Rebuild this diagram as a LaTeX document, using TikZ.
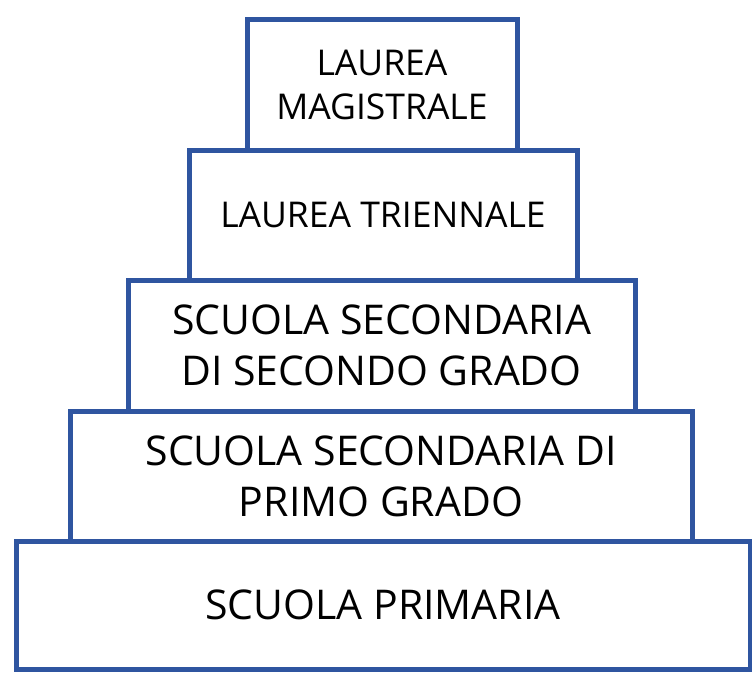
\documentclass[tikz,border=0pt]{standalone}
\usepackage{fontspec}
\setmainfont{Open Sans}
\definecolor{stepblue}{HTML}{2F55A0}
\tikzset{
  tier/.style={draw=stepblue, line width=5pt, fill=white, inner sep=0pt,
    align=center, text=black},
  smalltxt/.style={font=\fontsize{35.5}{44}\selectfont},
  bigtxt/.style={font=\fontsize{41}{51}\selectfont}
}
\begin{document}
\begin{tikzpicture}[x=1pt,y=-1pt]
\useasboundingbox (0,0) rectangle (752,672);
\node[tier, bigtxt, minimum width=734pt, minimum height=128pt] (prim) at (383,605) {\raisebox{-2pt}{SCUOLA PRIMARIA}};
\node[tier, bigtxt, minimum width=622pt, minimum height=130pt] (sec1) at (381,476) {SCUOLA SECONDARIA DI\\PRIMO GRADO};
\node[tier, bigtxt, minimum width=507pt, minimum height=131pt] (sec2) at (381.5,345.5) {SCUOLA SECONDARIA\\DI SECONDO GRADO};
\node[tier, smalltxt, minimum width=388pt, minimum height=130pt] (tri) at (383,215) {\raisebox{-3pt}{LAUREA TRIENNALE}};
\node[tier, smalltxt, minimum width=270pt, minimum height=131pt] (mag) at (382,84.5) {LAUREA\\MAGISTRALE};
\end{tikzpicture}
\end{document}
